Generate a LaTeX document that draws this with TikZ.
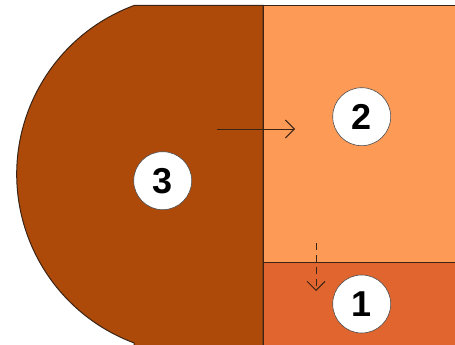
\documentclass[tikz,border=0pt]{standalone}
\usepackage{fontspec}
\setmainfont{Liberation Sans}
\usetikzlibrary{arrows.meta}
\definecolor{cthree}{HTML}{AD4A0A}
\definecolor{ctwo}{HTML}{FD9A56}
\definecolor{cone}{HTML}{E0652E}
\definecolor{edge}{HTML}{3A2416}
\tikzset{
  region/.style={draw=edge, line width=1pt},
  badge/.style={circle, fill=white, draw=black!70, line width=0.6pt, minimum size=58pt, inner sep=0pt,
    font=\bfseries\fontsize{36}{36}\selectfont},
  flow/.style={draw=edge, line width=0.9pt, -{Straight Barb[length=9pt,width=18pt,line width=0.9pt]}},
}
\begin{document}
\begin{tikzpicture}[x=1pt,y=-1pt]
\useasboundingbox (0,0) rectangle (455,345);
\clip (0,0) rectangle (455,345);
\fill[white] (0,0) rectangle (455,345);
% region 3 (half-round)
\path[region, fill=cthree] (263,5.5) -- (134,5.5) arc[start angle=249.6, end angle=110.4, radius=180] -- (134,350) -- (263,350) -- cycle;
% region 2
\path[region, fill=ctwo] (263,5.5) rectangle (460,262);
% region 1
\path[region, fill=cone] (263,262) rectangle (460,350);
% badges
\node[badge] (n2) at (361.7,116.7) {2};
\node[badge] (n3) at (162.7,180.7) {3};
\node[badge] (n1) at (361.7,304) {1};
% arrows
\coordinate (a1s) at (217,129);
\coordinate (a1e) at (295,129);
\draw[flow] (a1s) -- (a1e);
\coordinate (a2s) at (316,243);
\coordinate (a2e) at (316,291);
\draw[flow, dash pattern=on 7pt off 5pt] (a2s) -- (a2e);
\end{tikzpicture}
\end{document}
